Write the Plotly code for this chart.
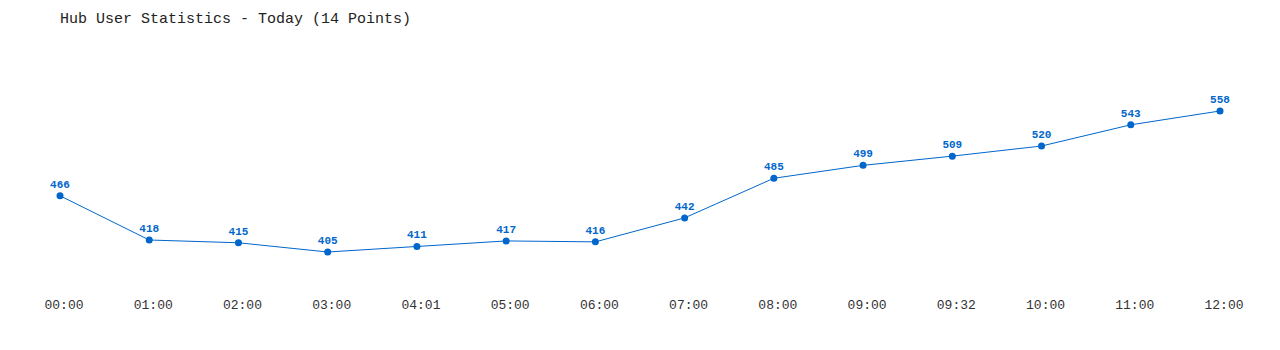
import plotly.graph_objects as go

times = ["00:00", "01:00", "02:00", "03:00", "04:01", "05:00", "06:00",
         "07:00", "08:00", "09:00", "09:32", "10:00", "11:00", "12:00"]
users = [466, 418, 415, 405, 411, 417, 416, 442, 485, 499, 509, 520, 543, 558]

mono = "Liberation Mono, DejaVu Sans Mono, monospace"
blue = "#0066cc"

fig = go.Figure()
fig.add_trace(go.Scatter(
    x=list(range(len(times))), y=users,
    mode="lines+markers+text",
    line=dict(color=blue, width=1),
    marker=dict(color=blue, size=7),
    text=[str(v) for v in users],
    textposition="top center",
    textfont=dict(family=mono, size=11, color=blue, weight="bold"),
    cliponaxis=False,
    hoverinfo="skip",
))

fig.update_layout(
    width=1280, height=350,
    margin=dict(l=60, r=60, t=60, b=58),
    paper_bgcolor="white", plot_bgcolor="white",
    showlegend=False,
    title=dict(text="Hub User Statistics - Today (14 Points)",
               x=60/1280, xanchor="left", y=1-18/350, yanchor="middle",
               font=dict(family=mono, size=15, color="#222")),
    xaxis=dict(range=[0, 13], tickmode="array",
               tickvals=list(range(len(times))), ticktext=times,
               showgrid=False, zeroline=False, showline=False, ticks="",
               ticklabelshift=4, ticklabelstandoff=3,
               tickfont=dict(family=mono, size=13, color="#333")),
    yaxis=dict(range=[361.6, 613.3], visible=False, showgrid=False),
)

fig.write_html("out.html")
